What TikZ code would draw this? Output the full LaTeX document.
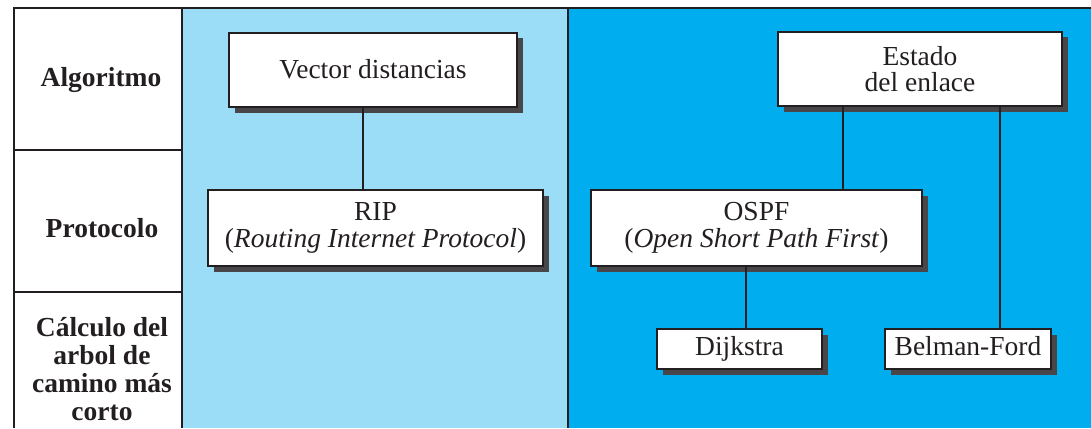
\documentclass[tikz,border=0pt]{standalone}
\usepackage{fontspec}
\setmainfont{Liberation Serif}
\definecolor{lightb}{RGB}{155,221,247}
\definecolor{darkb}{RGB}{0,173,238}
\definecolor{shadowc}{RGB}{72,70,72}
\definecolor{linec}{RGB}{35,31,32}
\tikzset{
  box/.style={draw=linec, line width=1.8pt, fill=white, inner sep=0pt, align=center, text=linec,
    preaction={fill=shadowc, transform canvas={shift={(5.5pt,-5.5pt)}}},
    font=\fontsize{27.5}{26.5}\selectfont},
  rowlabel/.style={align=center, inner sep=0pt, font=\fontsize{27.5}{28}\selectfont\bfseries, text=linec},
  conn/.style={draw=linec, line width=1.5pt},
  frame/.style={draw=linec, line width=1.5pt}
}
\begin{document}
\begin{tikzpicture}[x=1pt,y=-1pt]
\useasboundingbox (0,0) rectangle (1091,428);
% backgrounds
\fill[lightb] (182,8) rectangle (568,428);
\fill[darkb] (568,8) rectangle (1091,428);
% frame
\draw[frame] (1091,8) -- (14,8) -- (14,428);
\draw[frame] (182,8) -- (182,428);
\draw[frame] (568,8) -- (568,428);
\draw[frame] (14,150) -- (182,150);
\draw[frame] (14,292) -- (182,292);
% row labels
\node[rowlabel] (l1) at (101,80) {Algoritmo};
\node[rowlabel] (l2) at (102,228) {Protocolo};
\node[rowlabel] (l3) at (102,369) {Cálculo del\\arbol de\\camino más\\corto};
% boxes
\node[box, minimum width=288pt, minimum height=74pt, text height=19pt, text depth=3pt] (vd) at (373,70) {Vector distancias};
\node[box, minimum width=335pt, minimum height=76pt] (rip) at (375.5,228) {RIP\\(\textit{Routing Internet Protocol})};
\node[box, minimum width=284pt, minimum height=74pt] (ee) at (920,69) {Estado\\del enlace};
\node[box, minimum width=331pt, minimum height=76pt] (ospf) at (756.5,228) {OSPF\\(\textit{Open Short Path First})};
\node[box, minimum width=165pt, minimum height=40pt, text height=19pt, text depth=6pt] (dij) at (739.5,349) {Dijkstra};
\node[box, minimum width=166pt, minimum height=40pt, text height=19pt, text depth=6pt] (bf) at (968,349) {Belman-Ford};
% connector x positions
\coordinate (c1) at (363,0);
\coordinate (c2) at (843,0);
\coordinate (c3) at (746,0);
\coordinate (c4) at (1000,0);
\draw[conn] (vd.south -| c1) -- (rip.north -| c1);
\draw[conn] (ee.south -| c2) -- (ospf.north -| c2);
\draw[conn] (ospf.south -| c3) -- (dij.north -| c3);
\draw[conn] (ee.south -| c4) -- (bf.north -| c4);
\end{tikzpicture}
\end{document}
